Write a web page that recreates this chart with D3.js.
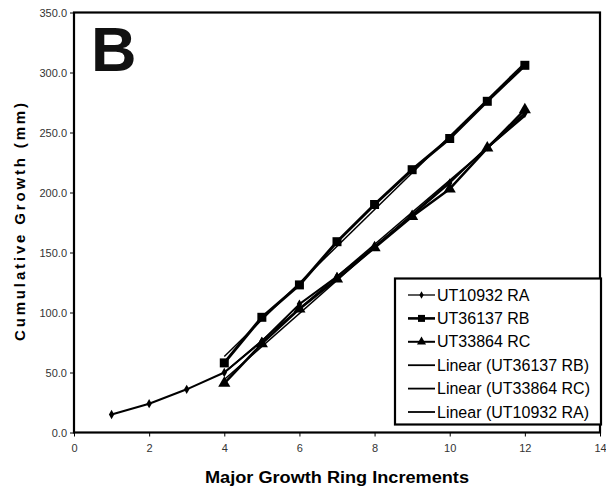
<!DOCTYPE html>
<html>
<head>
<meta charset="utf-8">
<script src="https://cdn.jsdelivr.net/npm/d3@7"></script>
<style>
  body { margin: 0; background: #fff; }
  svg { display: block; font-family: "Liberation Sans", Arial, sans-serif; }
</style>
</head>
<body>
<svg id="chart" width="606" height="490"></svg>
<script>
// data
var raX = [1, 2, 3, 4, 5, 6, 7, 8, 9, 10, 11, 12]
var raY = [15, 24, 36, 50, 76, 107, 130, 155, 181, 208, 238, 266]
var rbX = [4, 5, 6, 7, 8, 9, 10, 11, 12]
var rbY = [58, 96, 123, 159, 190, 219, 245, 276, 306]
var rcX = [4, 5, 6, 7, 8, 9, 10, 11, 12]
var rcY = [41, 74, 103, 128, 154, 180, 203, 237, 269]
var xTicks = [0, 2, 4, 6, 8, 10, 12, 14]
var yTicks = [0, 50, 100, 150, 200, 250, 300, 350]
var legendLabels = ['UT10932 RA', 'UT36137 RB', 'UT33864 RC',
  'Linear (UT36137 RB)', 'Linear (UT33864 RC)', 'Linear (UT10932 RA)']

;(function () {
  var PLOT = { left: 74, right: 600, top: 12.5, bottom: 432.5 }

  var svg = d3.select('#chart')
  var x = d3.scaleLinear().domain([0, 14]).range([PLOT.left, PLOT.right])
  var y = d3.scaleLinear().domain([0, 350]).range([PLOT.bottom, PLOT.top])

  function zip (xs, ys) {
    return xs.map(function (v, i) { return [v, ys[i]] })
  }

  // least squares line, endpoints over the points given
  function fit (pts) {
    var mx = d3.mean(pts, function (p) { return p[0] })
    var my = d3.mean(pts, function (p) { return p[1] })
    var sxy = d3.sum(pts, function (p) { return (p[0] - mx) * (p[1] - my) })
    var sxx = d3.sum(pts, function (p) { return (p[0] - mx) * (p[0] - mx) })
    var b = sxy / sxx, a = my - b * mx
    var x0 = d3.min(pts, function (p) { return p[0] })
    var x1 = d3.max(pts, function (p) { return p[0] })
    return [[x0, a + b * x0], [x1, a + b * x1]]
  }

  var series = [
    { pts: zip(raX, raY), width: 2, marker: 'diamond', size: 5 },
    { pts: zip(rbX, rbY), width: 3, marker: 'square', size: 9 },
    { pts: zip(rcX, rcY), width: 2.5, marker: 'triangle', size: 8 }
  ]

  var line = d3.line()
    .x(function (d) { return x(d[0]) })
    .y(function (d) { return y(d[1]) })

  // axes
  var yAxis = d3.axisLeft(y).tickValues(yTicks).tickSize(4).tickPadding(3)
    .tickFormat(d3.format('.1f'))
  var xAxis = d3.axisBottom(x).tickValues(xTicks).tickSize(4).tickPadding(8)

  var gy = svg.append('g').attr('transform', 'translate(' + PLOT.left + ',0)').call(yAxis)
  var gx = svg.append('g').attr('transform', 'translate(0,' + PLOT.bottom + ')').call(xAxis)
  ;[gx, gy].forEach(function (g) {
    g.attr('font-family', null).attr('font-size', null)
    g.select('.domain').remove()
    g.selectAll('line').attr('stroke', '#000').attr('stroke-width', 1)
    g.selectAll('text').attr('fill', '#333').style('font-size', '11px')
  })

  // plot frame
  svg.append('rect')
    .attr('x', PLOT.left).attr('y', PLOT.top)
    .attr('width', PLOT.right - PLOT.left).attr('height', PLOT.bottom - PLOT.top)
    .attr('fill', 'none').attr('stroke', '#000').attr('stroke-width', 2.2)

  // trend lines (RA trend fitted over its rising part, as drawn)
  var trends = [
    fit(series[1].pts),
    fit(series[2].pts),
    fit(series[0].pts.filter(function (p) { return p[0] >= 4 }))
  ]

  // data lines
  series.forEach(function (s) {
    svg.append('path')
      .attr('d', line(s.pts))
      .attr('fill', 'none')
      .attr('stroke', '#000')
      .attr('stroke-width', s.width)
      .attr('stroke-linejoin', 'round')
  })

  trends.forEach(function (t) {
    svg.append('path')
      .attr('d', line(t))
      .attr('fill', 'none')
      .attr('stroke', '#000')
      .attr('stroke-width', 1.5)
  })

  var symbols = {
    diamond: d3.symbolDiamond,
    square: d3.symbolSquare,
    triangle: d3.symbolTriangle
  }

  function symbolPath (name, size) {
    return d3.symbol().type(symbols[name]).size(size * size)()
  }

  series.forEach(function (s) {
    svg.append('g').selectAll('path')
      .data(s.pts)
      .join('path')
      .attr('transform', function (d) { return 'translate(' + x(d[0]) + ',' + y(d[1]) + ')' })
      .attr('d', symbolPath(s.marker, s.size))
      .attr('fill', '#000')
  })

  // big panel letter
  svg.append('text')
    .attr('x', 91).attr('y', 71)
    .attr('fill', '#111')
    .style('font-size', '63px').style('font-weight', 'bold')
    .text('B')

  // legend
  var lg = svg.append('g')
  lg.append('rect')
    .attr('x', 395).attr('y', 278.5)
    .attr('width', 206).attr('height', 146)
    .attr('fill', '#fff').attr('stroke', '#000').attr('stroke-width', 2.2)

  var legendSeries = [
    { width: 1.3, marker: 'diamond', size: 4 },
    { width: 2.6, marker: 'square', size: 7 },
    { width: 2, marker: 'triangle', size: 6 },
    { width: 1.8 }, { width: 1.8 }, { width: 1.8 }
  ]

  legendLabels.forEach(function (label, i) {
    var cy = 295 + i * 23.4
    var s = legendSeries[i]
    lg.append('line')
      .attr('x1', 408).attr('x2', 435)
      .attr('y1', cy).attr('y2', cy)
      .attr('stroke', '#000').attr('stroke-width', s.width)
    if (s.marker) {
      lg.append('path')
        .attr('transform', 'translate(421.5,' + cy + ')')
        .attr('d', symbolPath(s.marker, s.size))
        .attr('fill', '#000')
    }
    lg.append('text')
      .attr('x', 437).attr('y', cy + 5.5)
      .attr('fill', '#000')
      .style('font-size', '16px')
      .text(label)
  })

  // axis titles
  svg.append('text')
    .attr('x', 337).attr('y', 483)
    .attr('text-anchor', 'middle')
    .attr('textLength', 264).attr('lengthAdjust', 'spacingAndGlyphs')
    .style('font-size', '16px').style('font-weight', 'bold')
    .text('Major Growth Ring Increments')

  svg.append('text')
    .attr('transform', 'translate(25,222) rotate(-90)')
    .attr('text-anchor', 'middle')
    .attr('textLength', 238).attr('lengthAdjust', 'spacing')
    .style('font-size', '15px').style('font-weight', 'bold')
    .text('Cumulative Growth (mm)')
})()
</script>
</body>
</html>
